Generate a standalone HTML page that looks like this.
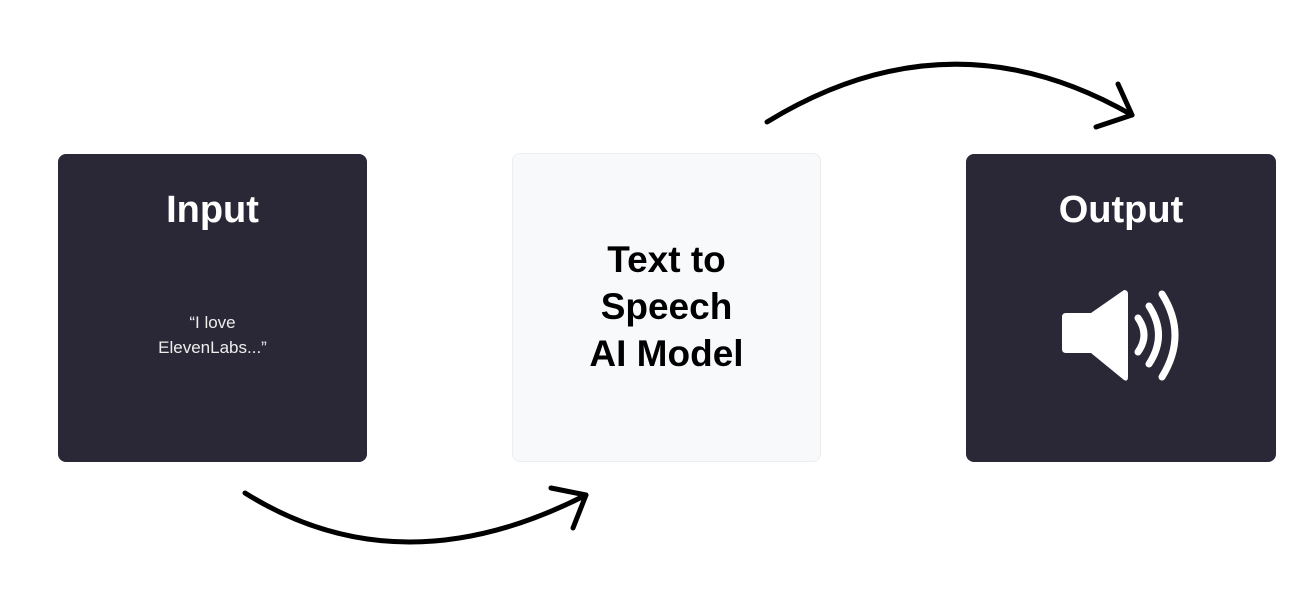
<!DOCTYPE html>
<html><head><style>
body{margin:0;width:1312px;height:604px;background:#fff;position:relative;overflow:hidden;font-family:"Liberation Sans",sans-serif}
.box{position:absolute;top:154px;width:309px;height:308px;border-radius:8px;background:#2a2837;color:#fff;text-align:center}
.t{position:absolute;left:0;right:0;top:189px;font-weight:bold;font-size:38px;text-align:center}
</style></head><body>
<div class="box" style="left:58px"></div>
<div class="box" style="left:512px;top:153px;width:309px;height:309px;background:#f8f9fa;border:1px solid #eceef0;box-sizing:border-box"></div>
<div class="box" style="left:966px;width:310px"></div>
<div class="t" style="left:58px;width:309px;right:auto;color:#fff">Input</div>
<div class="t" style="left:966px;width:310px;right:auto;color:#fff">Output</div>
<div style="position:absolute;left:58px;width:309px;top:310px;color:#eee;font-size:17px;line-height:25px;text-align:center">“I love<br>ElevenLabs...”</div>
<div style="position:absolute;left:512px;width:309px;top:236px;color:#000;font-weight:bold;font-size:37px;line-height:47px;text-align:center">Text to<br>Speech<br>AI Model</div>
<svg width="1312" height="604" style="position:absolute;left:0;top:0">
<g fill="none" stroke="#000" stroke-width="5" stroke-linecap="round" stroke-linejoin="round">
<path d="M245 493 Q400 590 586 495"/>
<path d="M551 488 L586 495 L573 528"/>
<path d="M767 122 Q950 10 1132 115"/>
<path d="M1118 84 L1132 115 L1096 127"/>
</g>
<path d="M1066 313 H1091 L1124 290 Q1128 290 1128 294 V377 Q1128 382 1124 380 L1091 353 H1066 Q1062 353 1062 349 V317 Q1062 313 1066 313Z" fill="#fff"/>
<g fill="none" stroke="#fff" stroke-width="7" stroke-linecap="round">
<path d="M1138 318 Q1150 335 1138 352"/>
<path d="M1149 306 Q1168 335 1149 364"/>
<path d="M1162 294 Q1188 335 1162 377"/>
</g>
</svg>
</body></html>
